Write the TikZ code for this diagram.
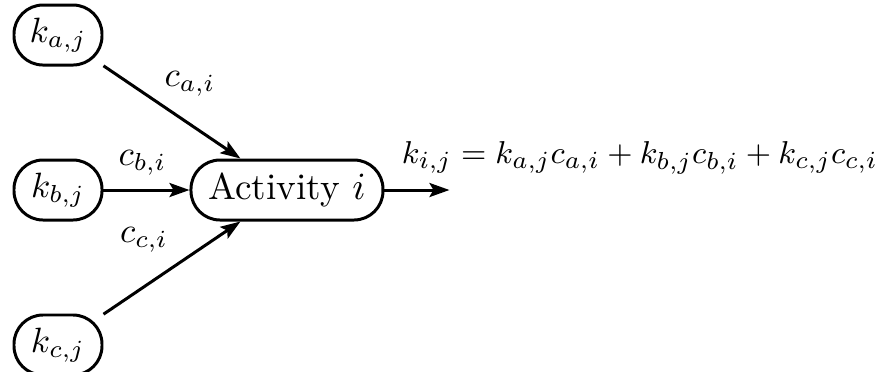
\documentclass[tikz,border=0pt]{standalone}
\usetikzlibrary{arrows.meta, positioning}
\tikzset{
  var/.style={rectangle,draw,rounded corners=2.9mm,line width=0.85pt,minimum width=8.8mm,minimum height=6mm,inner sep=2pt},
  act/.style={var,minimum width=19.2mm,font={\fontsize{10.6}{13}\selectfont}},
  line/.style={-{Stealth[length=2mm,width=1.4mm,inset=0.4mm]},line width=0.85pt}
}
\begin{document}
\begin{tikzpicture}[node distance=9.2mm and 8.6mm, font={\fontsize{10.2}{13}\selectfont}]
\useasboundingbox (0,0) rectangle (8.92,3.71);
\node[var] (kb) at (0.58,1.81) {$k_{b,j}$};
\node[var, above=of kb] (ka) {$k_{a,j}$};
\node[var, below=of kb] (kc) {$k_{c,j}$};
\node[act, right=of kb] (act) {Activity $i$};
\coordinate[right=6.5mm of act] (out);
\draw[line] (ka) -- node[midway,xshift=1.8mm,yshift=2.8mm] {$c_{a,i}$} (act);
\draw[line] (kb) -- node[midway,xshift=-0.4mm,yshift=2.7mm] {$c_{b,i}$} (act);
\draw[line] (kc) -- node[midway,xshift=-2.8mm,yshift=2.8mm] {$c_{c,i}$} (act);
\draw[line] (act) -- node[at start,anchor=base west,inner sep=0pt,xshift=1.6mm,yshift=2.7mm,font={\fontsize{9.4}{12}\selectfont}]
  {$k_{i,j} = k_{a,j}c_{a,i} + k_{b,j}c_{b,i} + k_{c,j}c_{c,i}$} (out);
\end{tikzpicture}
\end{document}
